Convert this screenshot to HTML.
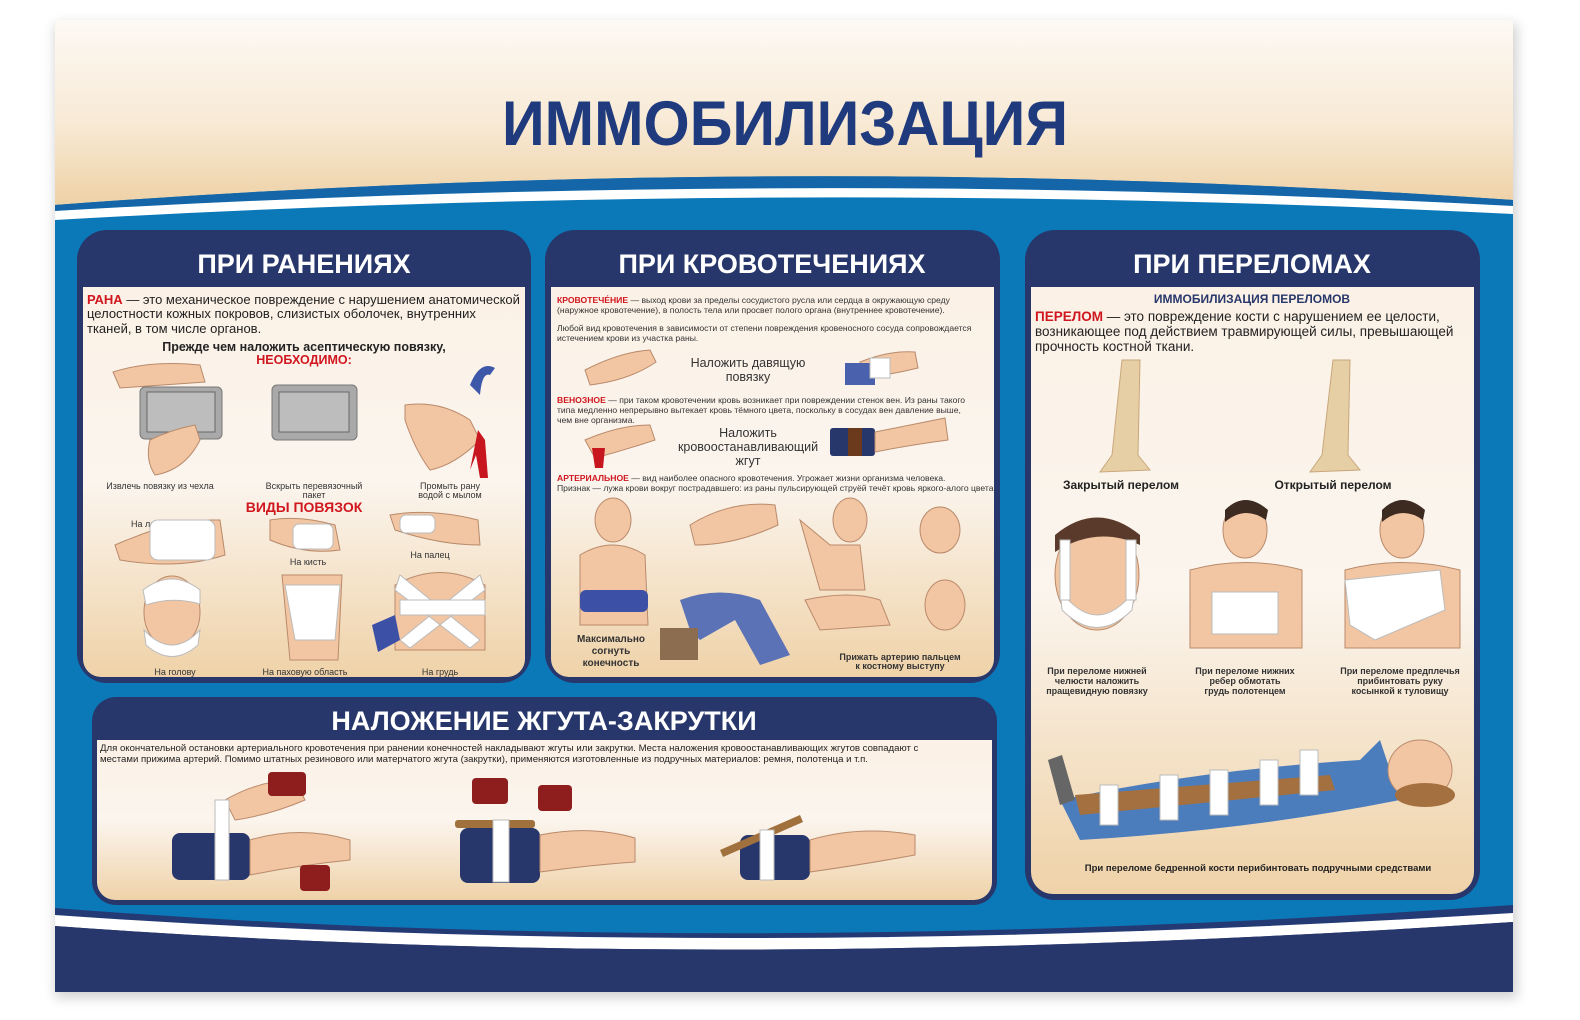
<!DOCTYPE html>
<html><head><meta charset="utf-8">
<style>
html,body{margin:0;padding:0;background:#fff;}
svg{display:block;}
text{font-family:"Liberation Sans",sans-serif;}
.sk{fill:#f2c6a2;stroke:#b98a6c;stroke-width:1}
.nv{fill:#27376b}
.wb{fill:#fff;stroke:#bbb;stroke-width:1}
.rd{fill:#c8161e}
.cap{font-size:9px;fill:#333;text-anchor:middle}
.sm{font-size:8.6px;fill:#333}
</style></head><body>
<svg width="1580" height="1020" viewBox="0 0 1580 1020" xmlns="http://www.w3.org/2000/svg">
<defs>
<linearGradient id="hdr" x1="0" y1="0" x2="0" y2="1"><stop offset="0" stop-color="#fdf9f4"/><stop offset="0.55" stop-color="#f8ead6"/><stop offset="1" stop-color="#eed1a6"/></linearGradient>
<linearGradient id="bg" x1="0" y1="0" x2="0" y2="1"><stop offset="0" stop-color="#fbf1e6"/><stop offset="0.5" stop-color="#fbf5ee"/><stop offset="1" stop-color="#efd2a8"/></linearGradient>
<filter id="sh" x="-5%" y="-5%" width="110%" height="110%"><feGaussianBlur stdDeviation="6"/></filter>
</defs>
<rect x="55" y="24" width="1462" height="974" fill="#000" opacity="0.18" filter="url(#sh)"/>
<!-- main blue -->
<rect x="55" y="20" width="1458" height="972" fill="#0b78b8"/>
<!-- header -->
<path d="M55 20 H1513 V200 Q790 150 55 205 Z" fill="url(#hdr)"/>
<path d="M55 205 Q790 150 1513 200 V206 Q790 168 55 211 Z" fill="#1466a8"/>
<path d="M55 211 Q790 168 1513 206 V214 Q790 178 55 220 Z" fill="#fff"/>
<text x="785" y="145" font-size="63" font-weight="bold" fill="#1f3b7d" text-anchor="middle" textLength="566" lengthAdjust="spacingAndGlyphs">ИММОБИЛИЗАЦИЯ</text>
<!-- bottom -->
<path d="M55 908 Q720 960 1513 905 V992 H55 Z" fill="#243a75"/>
<path d="M55 915 Q720 962 1513 913 V922 Q720 975 55 926 Z" fill="#fff"/>
<path d="M55 926 Q720 975 1513 922 V992 H55 Z" fill="#28376b"/>

<!-- Panel 1 -->
<rect x="77" y="230" width="454" height="453" rx="30" fill="#27376b"/>
<rect x="83" y="287" width="442" height="390" rx="18" fill="url(#bg)"/>
<rect x="83" y="287" width="442" height="30" fill="#fbf1e6"/>
<text x="304" y="273" font-size="27" font-weight="bold" fill="#fff" text-anchor="middle">ПРИ РАНЕНИЯХ</text>
<text x="87" y="304" font-size="13" fill="#222"><tspan fill="#d0161e" font-weight="bold">РАНА</tspan> — это механическое повреждение с нарушением анатомической</text>
<text x="87" y="318" font-size="13" fill="#222">целостности кожных покровов, слизистых оболочек, внутренних</text>
<text x="87" y="333" font-size="13" fill="#222">тканей, в том числе органов.</text>
<text x="304" y="351" font-size="12.5" font-weight="bold" fill="#222" text-anchor="middle">Прежде чем наложить асептическую повязку,</text>
<text x="304" y="364" font-size="12.5" font-weight="bold" fill="#d0161e" text-anchor="middle">НЕОБХОДИМО:</text>
<!-- packets -->
<path d="M113 372 Q150 360 200 365 L205 382 L120 388 Z" class="sk"/>
<rect x="140" y="387" width="82" height="52" rx="5" fill="#a9a9a9" stroke="#777"/>
<rect x="147" y="392" width="68" height="40" fill="#bdbdbd" stroke="#666"/>
<path d="M150 440 Q170 430 195 425 L200 440 Q185 470 155 475 Q145 460 150 440Z" class="sk"/>
<rect x="272" y="385" width="85" height="55" rx="5" fill="#a9a9a9" stroke="#777"/>
<rect x="279" y="392" width="70" height="40" fill="#bdbdbd" stroke="#666"/>
<path d="M405 405 Q440 400 470 420 L480 440 Q455 465 430 470 Q415 450 405 420Z" class="sk"/>
<path d="M470 385 Q480 360 495 368 L490 375 Q482 372 480 395 Z" fill="#3d58a8"/>
<path d="M478 430 L485 440 L488 478 L480 478 L476 455 L470 470 Z" class="rd"/>
<text x="160" y="489" class="cap" font-size="8">Извлечь повязку из чехла</text>
<text x="314" y="489" class="cap" font-size="8">Вскрыть перевязочный</text>
<text x="314" y="498" class="cap" font-size="8">пакет</text>
<text x="450" y="489" class="cap" font-size="8">Промыть рану</text>
<text x="450" y="498" class="cap" font-size="8">водой с мылом</text>
<text x="304" y="512" font-size="14" font-weight="bold" fill="#d0161e" text-anchor="middle">ВИДЫ ПОВЯЗОК</text>
<text x="152" y="527" class="cap" font-size="8">На локоть</text>
<path d="M115 545 Q150 530 185 520 L220 520 L225 555 Q180 570 120 560Z" class="sk"/>
<rect x="150" y="520" width="65" height="40" rx="8" class="wb"/>
<path d="M270 520 Q300 515 335 525 L340 550 Q305 555 270 540Z" class="sk"/>
<rect x="293" y="524" width="40" height="25" rx="6" class="wb"/>
<text x="308" y="565" class="cap" font-size="8">На кисть</text>
<path d="M390 515 Q430 508 478 520 L480 545 Q440 545 395 530Z" class="sk"/>
<rect x="400" y="515" width="35" height="18" rx="6" class="wb"/>
<text x="430" y="558" class="cap" font-size="8">На палец</text>
<ellipse cx="172" cy="612" rx="28" ry="36" class="sk"/>
<path d="M143 590 Q172 568 200 590 L200 604 Q172 596 146 605Z" class="wb"/>
<path d="M144 630 Q172 660 200 630 L198 645 Q172 668 146 645Z" class="wb"/>
<path d="M282 575 H342 L338 660 H290Z" class="sk"/>
<path d="M285 585 H340 L335 640 H295Z" class="wb"/>
<path d="M395 585 Q440 560 485 585 L485 650 H395Z" class="sk"/>
<path d="M400 575 L480 640 L470 648 L395 590Z M480 575 L400 640 L410 648 L485 590Z" class="wb"/>
<rect x="400" y="600" width="85" height="15" class="wb"/>
<path d="M372 625 L395 615 L400 640 L378 652Z" fill="#3c50a6"/>
<text x="175" y="675" class="cap" font-size="8">На голову</text>
<text x="305" y="675" class="cap" font-size="8">На паховую область</text>
<text x="440" y="675" class="cap" font-size="8">На грудь</text>

<!-- Panel 2 -->
<rect x="545" y="230" width="455" height="453" rx="30" fill="#27376b"/>
<rect x="551" y="287" width="443" height="390" rx="18" fill="url(#bg)"/>
<rect x="551" y="287" width="443" height="30" fill="#fbf1e6"/>
<text x="772" y="273" font-size="27" font-weight="bold" fill="#fff" text-anchor="middle">ПРИ КРОВОТЕЧЕНИЯХ</text>
<text x="557" y="303" class="sm" font-size="8.2"><tspan fill="#d0161e" font-weight="bold">КРОВОТЕЧЕ́НИЕ</tspan> — выход крови за пределы сосудистого русла или сердца в окружающую среду</text>
<text x="557" y="313" class="sm" font-size="8.2">(наружное кровотечение), в полость тела или просвет полого органа (внутреннее кровотечение).</text>
<text x="557" y="331" class="sm" font-size="8.2">Любой вид кровотечения в зависимости от степени повреждения кровеносного сосуда сопровождается</text>
<text x="557" y="341" class="sm" font-size="8.2">истечением крови из участка раны.</text>
<path d="M585 370 Q620 352 650 350 L656 362 Q630 380 590 385Z" class="sk"/>
<text x="748" y="367" font-size="12.5" fill="#333" text-anchor="middle">Наложить давящую</text>
<text x="748" y="381" font-size="12.5" fill="#333" text-anchor="middle">повязку</text>
<path d="M860 362 Q890 350 915 352 L918 368 Q890 375 860 378Z" class="sk"/>
<rect x="845" y="363" width="30" height="22" fill="#4a62ad"/>
<rect x="870" y="358" width="20" height="20" class="wb"/>
<text x="557" y="403" class="sm" font-size="8.2"><tspan fill="#d0161e" font-weight="bold">ВЕНОЗНОЕ</tspan> — при таком кровотечении кровь возникает при повреждении стенок вен. Из раны такого</text>
<text x="557" y="413" class="sm" font-size="8.2">типа медленно непрерывно вытекает кровь тёмного цвета, поскольку в сосудах вен давление выше,</text>
<text x="557" y="423" class="sm" font-size="8.2">чем вне организма.</text>
<path d="M585 440 Q620 425 650 425 L655 440 Q625 450 595 458Z" class="sk"/>
<path d="M592 448 L605 448 L603 468 L595 468Z" class="rd"/>
<text x="748" y="437" font-size="12.5" fill="#333" text-anchor="middle">Наложить</text>
<text x="748" y="451" font-size="12.5" fill="#333" text-anchor="middle">кровоостанавливающий</text>
<text x="748" y="465" font-size="12.5" fill="#333" text-anchor="middle">жгут</text>
<rect x="830" y="428" width="45" height="28" rx="3" class="nv"/>
<path d="M875 432 Q910 425 945 418 L948 440 Q910 445 875 452Z" class="sk"/>
<rect x="848" y="428" width="14" height="28" fill="#6b3a1c"/>
<text x="557" y="481" class="sm" font-size="8.2"><tspan fill="#d0161e" font-weight="bold">АРТЕРИАЛЬНОЕ</tspan> — вид наиболее опасного кровотечения. Угрожает жизни организма человека.</text>
<text x="557" y="491" class="sm" font-size="8.2">Признак — лужа крови вокруг пострадавшего: из раны пульсирующей струёй течёт кровь яркого-алого цвета.</text>
<ellipse cx="613" cy="520" rx="18" ry="22" class="sk"/>
<path d="M580 555 Q613 535 645 555 L648 625 H580Z" class="sk"/>
<rect x="580" y="590" width="68" height="22" rx="6" fill="#3c50a6"/>
<path d="M690 525 Q730 500 775 505 L778 525 Q735 545 695 545Z" class="sk"/>
<path d="M680 600 Q720 585 760 600 L790 655 L760 665 L735 620 L700 640 L690 630Z" fill="#5b72b7"/>
<rect x="660" y="628" width="38" height="32" fill="#8c6d4f"/>
<ellipse cx="850" cy="520" rx="17" ry="22" class="sk"/>
<path d="M800 520 L830 545 L860 545 L865 590 L820 590 Z" class="sk"/>
<ellipse cx="940" cy="530" rx="20" ry="23" class="sk"/>
<path d="M805 600 Q850 590 880 600 L890 625 L820 630Z" class="sk"/>
<ellipse cx="945" cy="605" rx="20" ry="25" class="sk"/>
<text x="611" y="642" font-size="10" font-weight="bold" fill="#333" text-anchor="middle">Максимально</text>
<text x="611" y="654" font-size="10" font-weight="bold" fill="#333" text-anchor="middle">согнуть</text>
<text x="611" y="666" font-size="10" font-weight="bold" fill="#333" text-anchor="middle">конечность</text>
<text x="900" y="660" class="cap" font-size="8" font-weight="bold">Прижать артерию пальцем</text>
<text x="900" y="669" class="cap" font-size="8" font-weight="bold">к костному выступу</text>

<!-- Panel 3 -->
<rect x="1025" y="230" width="455" height="670" rx="30" fill="#27376b"/>
<rect x="1031" y="287" width="443" height="607" rx="22" fill="url(#bg)"/>
<rect x="1031" y="287" width="443" height="30" fill="#fbf1e6"/>
<text x="1252" y="273" font-size="27" font-weight="bold" fill="#fff" text-anchor="middle">ПРИ ПЕРЕЛОМАХ</text>
<text x="1252" y="303" font-size="12" font-weight="bold" fill="#27376b" text-anchor="middle">ИММОБИЛИЗАЦИЯ ПЕРЕЛОМОВ</text>
<text x="1035" y="321" font-size="13.5" fill="#222"><tspan fill="#d0161e" font-weight="bold">ПЕРЕЛОМ</tspan> — это повреждение кости с нарушением ее целости,</text>
<text x="1035" y="336" font-size="13.5" fill="#222">возникающее под действием травмирующей силы, превышающей</text>
<text x="1035" y="351" font-size="13.5" fill="#222">прочность костной ткани.</text>
<path d="M1122 360 L1140 360 L1138 455 L1150 470 L1100 472 L1112 455 Z" fill="#e6cfa5" stroke="#c8a77a"/>
<path d="M1333 360 L1350 360 L1348 455 L1360 470 L1310 472 L1322 455 Z" fill="#e6cfa5" stroke="#c8a77a"/>
<text x="1121" y="489" font-size="12" font-weight="bold" fill="#222" text-anchor="middle">Закрытый перелом</text>
<text x="1333" y="489" font-size="12" font-weight="bold" fill="#222" text-anchor="middle">Открытый перелом</text>
<ellipse cx="1097" cy="575" rx="42" ry="55" class="sk"/>
<path d="M1055 535 Q1097 500 1140 535 L1140 545 Q1097 525 1055 552Z" fill="#5a3a2a"/>
<path d="M1060 590 Q1097 640 1135 590 L1132 610 Q1097 645 1062 610Z" class="wb"/>
<rect x="1060" y="540" width="10" height="60" class="wb"/><rect x="1126" y="540" width="10" height="60" class="wb"/>
<ellipse cx="1245" cy="530" rx="22" ry="28" class="sk"/>
<path d="M1225 510 Q1245 490 1268 510 L1266 520 Q1245 505 1225 522Z" fill="#3d2a20"/>
<path d="M1190 570 Q1245 555 1302 570 L1302 648 H1190Z" class="sk"/>
<rect x="1212" y="592" width="66" height="42" class="wb"/>
<ellipse cx="1402" cy="530" rx="22" ry="28" class="sk"/>
<path d="M1382 510 Q1402 490 1425 510 L1423 520 Q1402 505 1382 522Z" fill="#3d2a20"/>
<path d="M1345 570 Q1402 555 1460 570 L1460 648 H1345Z" class="sk"/>
<path d="M1345 580 L1440 570 L1445 610 L1375 640 L1350 625Z" class="wb"/>
<text x="1097" y="674" class="cap" font-size="8" font-weight="bold">При переломе нижней</text>
<text x="1097" y="684" class="cap" font-size="8" font-weight="bold">челюсти наложить</text>
<text x="1097" y="694" class="cap" font-size="8" font-weight="bold">пращевидную повязку</text>
<text x="1245" y="674" class="cap" font-size="8" font-weight="bold">При переломе нижних</text>
<text x="1245" y="684" class="cap" font-size="8" font-weight="bold">ребер обмотать</text>
<text x="1245" y="694" class="cap" font-size="8" font-weight="bold">грудь полотенцем</text>
<text x="1400" y="674" class="cap" font-size="8" font-weight="bold">При переломе предплечья</text>
<text x="1400" y="684" class="cap" font-size="8" font-weight="bold">прибинтовать руку</text>
<text x="1400" y="694" class="cap" font-size="8" font-weight="bold">косынкой к туловищу</text>
<path d="M1060 800 Q1200 770 1360 760 L1380 740 L1400 800 Q1250 830 1080 840Z" fill="#4b7dbd"/>
<path d="M1075 795 L1330 775 L1335 790 L1080 815Z" fill="#a5703f"/>
<ellipse cx="1420" cy="770" rx="32" ry="30" class="sk"/>
<ellipse cx="1425" cy="795" rx="30" ry="12" fill="#a5703f"/>
<rect x="1100" y="785" width="18" height="40" class="wb"/><rect x="1160" y="775" width="18" height="45" class="wb"/><rect x="1210" y="770" width="18" height="45" class="wb"/><rect x="1260" y="760" width="18" height="45" class="wb"/><rect x="1300" y="750" width="18" height="45" class="wb"/>
<path d="M1048 760 L1062 755 L1075 800 L1060 805Z" fill="#666"/>
<text x="1258" y="871" font-size="9.5" font-weight="bold" fill="#222" text-anchor="middle">При переломе бедренной кости перибинтовать подручными средствами</text>

<!-- Panel 4 -->
<rect x="92" y="697" width="905" height="208" rx="24" fill="#27376b"/>
<rect x="97" y="740" width="895" height="160" rx="18" fill="url(#bg)"/>
<rect x="97" y="740" width="895" height="25" fill="#fbf1e6"/>
<text x="544" y="730" font-size="27" font-weight="bold" fill="#fff" text-anchor="middle">НАЛОЖЕНИЕ ЖГУТА-ЗАКРУТКИ</text>
<text x="100" y="751" font-size="9.6" fill="#222">Для окончательной остановки артериального кровотечения при ранении конечностей накладывают жгуты или закрутки. Места наложения кровоостанавливающих жгутов совпадают с</text>
<text x="100" y="762" font-size="9.6" fill="#222">местами прижима артерий. Помимо штатных резинового или матерчатого жгута (закрутки), применяются изготовленные из подручных материалов: ремня, полотенца и т.п.</text>
<rect x="172" y="833" width="78" height="47" rx="8" class="nv"/>
<path d="M250 840 Q300 825 350 840 L350 860 Q300 865 250 875Z" class="sk"/>
<path d="M225 800 Q260 780 295 780 L305 800 Q270 815 235 820Z" class="sk"/>
<rect x="268" y="772" width="38" height="24" rx="4" fill="#8e1d1d"/>
<rect x="300" y="865" width="30" height="26" rx="4" fill="#8e1d1d"/>
<rect x="215" y="800" width="14" height="80" class="wb"/>
<rect x="460" y="828" width="80" height="55" rx="8" class="nv"/>
<path d="M540 835 Q590 825 635 838 L635 862 Q590 865 540 872Z" class="sk"/>
<rect x="455" y="820" width="80" height="8" rx="3" fill="#a0703d"/>
<rect x="472" y="778" width="36" height="26" rx="4" fill="#8e1d1d"/>
<rect x="538" y="785" width="34" height="26" rx="4" fill="#8e1d1d"/>
<rect x="493" y="820" width="16" height="62" class="wb"/>
<rect x="740" y="835" width="70" height="45" rx="8" class="nv"/>
<path d="M810 840 Q860 825 915 835 L915 855 Q860 865 810 872Z" class="sk"/>
<path d="M720 850 L800 815 L803 822 L723 857Z" fill="#a0703d"/>
<rect x="760" y="830" width="14" height="50" class="wb"/>
</svg>
</body></html>
